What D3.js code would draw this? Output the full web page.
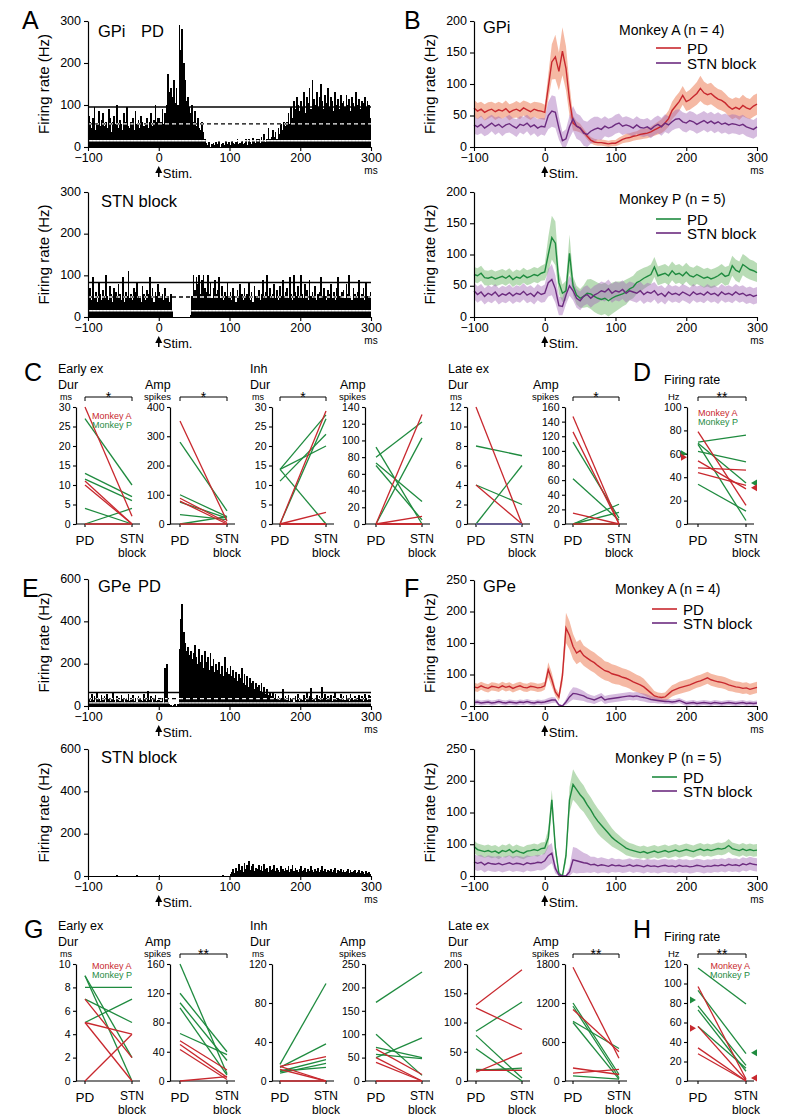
<!DOCTYPE html>
<html><head><meta charset="utf-8">
<script src="https://cdn.jsdelivr.net/npm/d3@7"></script>
<style>body{margin:0;background:#fff}svg{font-family:"Liberation Sans",Arial,sans-serif}</style>
</head><body><svg id="c" width="787" height="1118"></svg>
<script>
// ---------------- DATA ----------------
const T = d3.range(-100, 301, 5);          // trace time points (ms)
const BIN_T = d3.range(-100, 300, 2);      // histogram bin starts (ms)

// Panel A histograms (Hz), 2-ms bins
const gpiPD_hist = [75,60,45,70,95,40,55,85,50,65, 80,50,60,45,90,70,35,60,75,55, 100,45,65,55,40,80,60,95,50,45, 60,70,40,85,55,65,45,75,60,50, 55,70,45,60,80,50,65,100,60,70,
 70,60,90,55,80,100,175,130,140,120, 160,105,140,100,290,230,280,200,160,110, 120,95,80,100,60,85,50,70,45,40, 60,35,20,10,5,12,0,8,10,5, 12,6,15,0,8,10,5,15,8,12,
 5,15,10,8,12,20,6,10,15,8, 10,18,5,20,12,8,22,15,10,18, 20,10,25,15,30,12,20,45,18,25, 40,25,35,20,45,30,55,40,60,50, 60,80,55,95,70,110,90,120,100,85,
 110,95,130,80,120,105,140,90,160,115, 100,130,95,120,150,110,90,125,105,140, 95,120,110,85,130,100,115,90,125,105, 110,95,125,100,115,85,120,105,95,130, 100,115,90,110,105,120,95,110,100,70];
const gpiPD_lines = [95, 55, 15];   // upper, mean (dashed), lower
const gpiSTN_hist = [50,70,40,95,45,60,35,85,55,40, 65,45,100,50,40,75,55,35,70,60, 45,80,55,40,95,35,60,50,110,45, 55,40,70,60,85,45,50,35,75,55, 40,65,55,95,45,70,35,60,50,80,
 60,45,55,40,70,50,45,35,55,15, 0,0,0,0,0,0,0,0,0,0, 0,0,5,50,100,65,95,80,100,55, 90,100,70,60,100,55,85,45,70,90, 55,65,95,45,75,40,60,50,85,45,
 60,40,70,50,35,65,45,80,55,40, 70,45,55,85,40,60,35,75,50,45, 65,40,55,90,45,60,100,50,70,45, 55,80,45,65,40,75,50,90,45,60, 70,45,95,55,40,100,60,50,75,45,
 100,55,45,80,65,40,90,50,60,45, 75,40,55,60,95,45,70,50,40,65, 55,80,45,60,40,70,95,50,45,60, 65,45,80,55,100,50,40,70,55,45, 60,90,45,55,70,40,85,50,45,60];
const gpiSTN_lines = [83, 48, 15];

// Panel E histograms (Hz)
const gpePD_hist = [40,25,55,30,45,20,60,35,25,50, 30,45,20,55,35,25,40,60,30,20, 45,30,25,50,35,20,40,30,55,25, 30,50,25,40,20,45,35,30,25,55, 35,25,70,30,45,20,35,50,25,30,
 30,25,40,15,180,200,20,10,5,0, 5,10,0,8,270,410,480,350,300,260, 280,240,260,220,250,290,230,200,270,210, 240,180,260,210,230,170,250,190,220,160, 200,170,210,150,190,140,230,160,180,150,
 190,140,170,130,160,120,150,130,180,110, 150,100,140,90,130,110,120,80,110,90, 100,70,110,60,90,55,80,50,60,45, 60,40,55,35,45,30,40,80,35,45, 30,50,25,40,35,20,45,30,55,25,
 40,30,50,25,60,35,45,85,30,40, 25,50,35,45,30,90,40,55,30,45, 35,50,25,45,60,30,40,35,55,30, 45,30,50,35,25,55,40,30,45,35, 30,50,35,45,25,55,40,30,50,45];
const gpePD_lines = [64, 35, 15];
const gpeSTN_hist = [0,0,0,0,0,0,0,0,0,0, 0,0,0,0,0,0,0,0,0,0, 6,0,0,0,0,0,0,0,0,0, 0,0,0,0,5,0,0,0,0,0, 0,0,0,0,0,0,0,0,0,0,
 6,0,0,0,0,0,0,0,0,0, 0,0,0,0,0,0,0,0,0,0, 0,0,0,0,0,0,0,0,0,0, 0,0,0,0,0,0,0,0,0,0, 0,0,0,0,0,5,0,0,0,0,
 10,20,35,15,40,25,55,30,45,20, 60,35,50,70,30,45,55,25,40,35, 50,30,45,25,55,35,40,20,45,30, 35,50,25,40,30,20,45,35,25,40, 30,45,20,35,50,25,40,30,20,35,
 45,25,30,40,20,35,25,45,30,20, 35,25,40,20,30,45,25,35,20,30, 25,35,20,30,40,15,30,25,35,20, 30,20,25,35,15,30,20,25,30,15, 20,30,15,25,20,10,25,15,20,10];

// Panel B traces (Hz), mean and SEM half-width
const bA_pd = [62,57,60,55,58,60,56,59,57,61,55,58,60,57,62,59,56,60,58,57, 55,95,135,143,120,152,125,75,38,33,30,24,17,11,8,7,7,6,5,6,6,9,12,14,15,17,18,20,21,22,24,27,30,33,38,45,58,65,72,82,72,75,80,85,93,86,83,85,80,76,74,70,64,60,63,60,66,62,60,65,68];
const bA_pd_sem = [13,13,12,13,13,12,13,13,12,13,13,12,13,13,12,13,13,12,13,13, 12,20,28,35,30,38,35,25,12,8,7,5,5,5,5,5,5,5,5,5,5,6,6,7,7,7,7,8,8,8,8,9,10,11,12,13,14,15,15,15,15,16,17,18,20,18,17,17,16,16,16,15,15,16,16,17,17,16,16,17,17];
const bA_stn = [35,32,36,30,34,38,33,36,31,35,37,33,30,36,34,38,32,35,30,33, 32,50,57,55,30,10,13,32,45,33,30,22,20,25,28,30,28,33,30,32,36,38,33,35,33,30,35,31,30,32,28,33,36,32,38,35,40,44,45,40,38,42,40,36,39,42,38,41,37,40,36,38,35,37,36,34,36,32,30,28,32];
const bA_stn_sem = [14,13,14,13,14,13,14,13,14,13,14,13,14,13,14,13,14,13,14,13, 14,22,25,25,18,14,15,18,20,20,20,20,20,20,20,18,17,16,15,15,15,15,14,14,14,14,14,14,14,14,14,14,14,14,14,14,14,15,15,15,15,15,15,15,15,15,15,15,15,15,15,15,15,15,15,15,15,15,15,15,15];
const bP_pd = [68,66,70,63,62,64,61,63,65,62,66,60,64,62,67,63,65,68,66,70, 72,100,127,118,55,38,42,102,50,35,30,33,38,37,33,30,28,30,26,30,33,35,37,40,45,48,55,58,62,65,68,80,66,68,70,66,74,68,70,66,72,66,64,68,65,62,64,61,63,66,70,65,67,82,75,72,84,80,76,74,71];
const bP_pd_sem = [12,12,12,12,12,12,12,12,12,12,12,12,12,12,12,12,12,12,12,12, 13,28,35,35,18,14,16,30,15,15,15,18,22,24,25,25,25,25,25,25,24,22,20,20,18,18,18,18,17,16,16,16,15,15,15,15,15,15,15,15,15,15,15,15,15,15,15,15,15,15,15,15,15,16,17,17,17,17,16,16,15];
const bP_stn = [42,36,40,33,38,35,40,33,37,35,39,34,38,36,41,35,38,33,40,36, 38,55,60,45,18,17,35,50,42,30,26,33,36,30,35,38,42,40,45,38,42,40,44,38,42,40,38,42,36,40,38,42,35,38,33,40,36,38,35,40,37,34,40,36,38,35,40,36,38,34,40,36,38,35,40,36,38,34,36,33,35];
const bP_stn_sem = [13,13,13,13,13,13,13,13,13,13,13,13,13,13,13,13,13,13,13,13, 14,22,25,22,15,14,15,16,15,15,15,15,15,15,15,15,15,15,15,15,15,15,15,15,15,15,15,15,15,15,15,14,14,13,13,13,13,13,13,13,13,13,13,13,13,13,13,13,13,13,13,13,13,13,13,13,13,13,13,13,13];

// Panel F traces (axis units, 0-250 scale as drawn)
const fA_pd = [38,36,40,37,35,39,38,36,40,37,39,35,38,40,37,36,39,38,36,37, 40,72,52,28,18,60,155,140,118,105,110,100,95,90,86,80,75,70,68,64,62,60,57,55,52,48,45,42,38,32,26,20,18,17,18,24,30,33,36,38,40,42,45,48,50,53,56,52,50,48,47,45,42,40,38,37,35,36,33,35,37];
const fA_pd_sem = [8,8,8,8,8,8,8,8,8,8,8,8,8,8,8,8,8,8,8,8, 8,15,14,8,8,16,30,28,25,22,22,20,20,20,20,20,20,19,19,19,19,18,18,18,18,18,17,17,16,14,12,10,9,9,9,10,11,11,12,12,12,12,12,12,12,12,12,12,12,12,12,12,12,11,11,11,11,11,11,11,11];
const fA_stn = [7,8,6,7,8,6,7,9,7,6,8,7,6,8,7,9,7,6,8,7, 8,10,12,12,2,0,8,18,25,24,22,20,16,14,12,15,18,12,14,15,16,17,18,19,20,19,20,18,17,15,13,12,11,10,9,9,8,9,11,8,5,6,7,5,6,7,6,5,7,6,5,6,7,6,5,6,7,5,6,5,6];
const fA_stn_sem = [5,5,5,5,5,5,5,5,5,5,5,5,5,5,5,5,5,5,5,5, 5,6,6,5,2,1,6,10,12,12,11,10,9,8,8,8,8,8,8,8,8,8,8,8,8,8,8,8,8,8,7,6,6,5,5,5,5,5,5,5,5,5,5,5,5,5,5,5,5,5,5,5,5,5,5,5,5,5,5,5,5];
const fP_pd = [58,52,50,48,50,47,49,45,50,48,52,46,50,47,45,49,50,52,50,54, 55,75,150,55,5,0,40,150,180,170,160,152,140,130,118,108,100,92,84,76,70,65,60,55,52,50,48,46,48,45,47,49,46,48,50,47,49,51,48,50,52,50,48,51,53,50,52,50,52,54,53,55,60,54,52,50,53,50,52,50,51];
const fP_pd_sem = [12,12,12,12,12,12,12,12,12,12,12,12,12,12,12,12,12,12,12,12, 12,18,20,14,4,2,14,25,30,28,27,26,25,25,25,25,24,22,20,18,16,15,14,14,13,13,12,12,12,12,12,12,12,12,12,12,12,12,12,12,12,12,12,12,12,12,12,12,12,12,12,12,13,12,12,12,12,12,12,12,12];
const fP_stn = [28,25,27,22,26,24,23,25,22,24,26,23,25,24,22,26,24,25,27,26, 30,40,45,15,2,0,0,8,32,30,28,26,25,22,23,20,22,21,19,22,20,21,19,20,22,19,21,20,18,21,19,20,18,20,21,19,20,18,21,19,20,18,19,21,20,18,20,19,21,20,22,20,23,21,22,20,24,22,25,23,22];
const fP_stn_sem = [15,15,15,15,15,15,15,15,15,15,15,15,15,15,15,15,15,15,15,15, 16,20,20,10,3,2,2,10,25,25,22,20,18,16,15,15,15,14,14,14,13,13,13,13,13,13,13,13,13,13,13,13,13,13,13,13,13,13,13,13,13,13,13,13,13,13,13,13,13,13,13,13,13,13,13,13,13,13,13,13,13];
const F_TICKS = [0, 62.5, 125, 187.5, 250];
const F_TICK_LABELS = ["0", "100", "100", "200", "250"];

// Panel C / D (PD -> STN block), [PD, STN]
const cEarlyDur_A = [[30,2],[11,0],[10,0],[0,0]];
const cEarlyDur_P = [[27,10],[13,7],[11.5,6],[4,0],[0,4]];
const cEarlyAmp_A = [[352,10],[88,5],[78,0],[0,0]];
const cEarlyAmp_P = [[280,45],[100,25],[75,20],[32,15],[0,25]];
const cInhDur_A = [[0,29],[0,3],[0,0],[0,0]];
const cInhDur_P = [[14,28],[11,23],[14,20],[0,27],[14,0]];
const cInhAmp_A = [[0,131],[0,9],[0,0],[0,0]];
const cInhAmp_P = [[80,122],[0,103],[92,0],[73,27],[70,5]];
const cLateDur_A = [[12,0],[4,0],[0,0],[0,0]];
const cLateDur_P = [[8,7],[0,6],[4,2],[0,0],[0,0]];
const cLateAmp_A = [[147,0],[126,0],[15,0],[0,0]];
const cLateAmp_P = [[112,8],[62,5],[0,27],[0,16],[0,0]];
const dRate_A = [[79,16],[54,30],[48,46],[44,33]];
const dRate_P = [[70,76],[69,35],[62,53],[68,3],[34,11]];
const dMean_A = [57, 31];
const dMean_P = [60, 35];
// Panel G / H
const gEarlyDur_A = [[7,2],[5,4],[5,0],[0,4]];
const gEarlyDur_P = [[9,0],[9,2],[8,8],[7,5],[5,7]];
const gEarlyAmp_A = [[55,15],[50,5],[43,2],[0,6]];
const gEarlyAmp_P = [[160,10],[120,40],[107,28],[100,8],[65,36]];
const gInhDur_A = [[15,25],[15,0],[12,0],[0,0]];
const gInhDur_P = [[17,100],[14,38],[10,22],[8,18],[10,14]];
const gInhAmp_A = [[68,14],[50,0],[40,0],[0,0]];
const gInhAmp_P = [[168,233],[100,12],[50,92],[72,50],[57,48]];
const gLateDur_A = [[130,190],[125,88],[15,48],[18,18]];
const gLateDur_P = [[85,135],[78,5],[55,0],[18,22],[20,18]];
const gLateAmp_A = [[1750,350],[1100,450],[200,100],[120,180]];
const gLateAmp_P = [[1200,100],[1150,50],[920,500],[900,30],[80,30]];
const hRate_A = [[97,2],[56,1],[34,0],[28,0]];
const hRate_P = [[116,79],[93,28],[77,16],[73,10],[56,13]];
const hMean_A = [54, 3];
const hMean_P = [83, 29];

// ---------------- DRAWING ----------------
const RED = "#c8282e", GREEN = "#1f8b3f", PURPLE = "#6c2b7f", BLUE = "#4a6fb5";
const svg = d3.select("#c");
const defs = svg.append("defs");
let clipN = 0;

function txt(x, y, s, size, opt) {
  opt = opt || {};
  return svg.append("text").attr("x", x).attr("y", y).attr("font-size", size)
    .attr("fill", opt.fill || "#000").attr("text-anchor", opt.anchor || "start")
    .attr("font-weight", opt.weight || "normal").text(s);
}
function styleAxis(g, fs) {
  g.select(".domain").attr("stroke", "#000").attr("stroke-width", 1.2);
  g.selectAll(".tick line").attr("stroke", "#000").attr("stroke-width", 1.1);
  g.selectAll(".tick text").attr("font-size", fs).attr("fill", "#000")
    .attr("font-family", "Liberation Sans, Arial, sans-serif");
}
function timeAxes(x, y, yBot, yTicks, yLabels) {
  const ga = svg.append("g").attr("transform", `translate(0,${yBot})`)
    .call(d3.axisBottom(x).tickValues([-100, 0, 100, 200, 300]).tickSize(4).tickSizeOuter(0).tickPadding(2));
  styleAxis(ga, 12.5);
  const gy = svg.append("g").attr("transform", `translate(${x.range()[0]},0)`)
    .call(d3.axisLeft(y).tickValues(yTicks).tickSize(4).tickSizeOuter(0).tickPadding(3)
      .tickFormat((d, i) => yLabels ? yLabels[i] : d));
  styleAxis(gy, 12.5);
  gy.selectAll(".tick text").attr("dy", "0.25em");
  const x0 = x(0);
  svg.append("path").attr("d", `M${x0},${yBot + 30}V${yBot + 23}`).attr("stroke", "#000").attr("stroke-width", 1.5);
  svg.append("path").attr("d", `M${x0 - 3.5},${yBot + 26}L${x0},${yBot + 19}L${x0 + 3.5},${yBot + 26}Z`).attr("fill", "#000");
  txt(x0 + 4, yBot + 31, "Stim.", 13);
  txt(x(300), yBot + 27, "ms", 10, { anchor: "middle" });
  txt(0, 0, "Firing rate (Hz)", 15, { anchor: "middle" })
    .attr("transform", `translate(${x.range()[0] - 39},${(y.range()[0] + y.range()[1]) / 2}) rotate(-90)`);
}

function histPanel(vals, lines, yMax, yTop, yBot, yTicks) {
  const x = d3.scaleLinear().domain([-100, 300]).range([88, 371]);
  const y = d3.scaleLinear().domain([0, yMax]).range([yBot, yTop]);
  const w = x(2) - x(0);
  if (lines) {
    svg.append("line").attr("x1", x(-100)).attr("x2", x(300)).attr("y1", y(lines[1])).attr("y2", y(lines[1]))
      .attr("stroke", "#000").attr("stroke-width", 1.4).attr("stroke-dasharray", "4,3");
  }
  const g = svg.append("g").attr("shape-rendering", "crispEdges");
  g.selectAll("rect").data(vals).join("rect")
    .attr("x", (d, i) => x(BIN_T[i])).attr("width", w + 0.3)
    .attr("y", d => y(d)).attr("height", d => yBot - y(d)).attr("fill", "#000");
  if (lines) {
    const id = "clip" + (clipN++);
    defs.append("clipPath").attr("id", id).selectAll("rect").data(vals).join("rect")
      .attr("x", (d, i) => x(BIN_T[i])).attr("width", w + 0.3)
      .attr("y", d => y(d)).attr("height", d => yBot - y(d));
    svg.append("line").attr("clip-path", `url(#${id})`).attr("x1", x(-100)).attr("x2", x(300))
      .attr("y1", y(lines[1])).attr("y2", y(lines[1])).attr("stroke", "#fff").attr("stroke-width", 1.4).attr("stroke-dasharray", "4,3");
    svg.append("line").attr("clip-path", `url(#${id})`).attr("x1", x(-100)).attr("x2", x(300))
      .attr("y1", y(lines[2])).attr("y2", y(lines[2])).attr("stroke", "#fff").attr("stroke-width", 1.4);
    svg.append("line").attr("x1", x(-100)).attr("x2", x(300)).attr("y1", y(lines[0])).attr("y2", y(lines[0]))
      .attr("stroke", "#000").attr("stroke-width", 1.5);
  }
  timeAxes(x, y, yBot, yTicks);
}

function tracePanel(series, yMax, yTop, yBot, yTicks, yLabels) {
  const x = d3.scaleLinear().domain([-100, 300]).range([474, 757]);
  const y = d3.scaleLinear().domain([0, yMax]).range([yBot, yTop]);
  series.forEach(s => {
    const area = d3.area().x((d, i) => x(T[i]))
      .y0((d, i) => y(Math.max(0, d - s.sem[i]))).y1((d, i) => y(d + s.sem[i]));
    svg.append("path").attr("d", area(s.mean)).attr("fill", s.fill).attr("fill-opacity", s.op);
  });
  series.forEach(s => {
    const line = d3.line().x((d, i) => x(T[i])).y(d => y(d));
    svg.append("path").attr("d", line(s.mean)).attr("fill", "none").attr("stroke", s.color).attr("stroke-width", 1.4);
  });
  timeAxes(x, y, yBot, yTicks, yLabels);
}

function legend(title, yTitle, lineX, yPD, ySTN, pdColor) {
  txt(lineX - 37, yTitle, title, 14);
  [[yPD, pdColor, "PD"], [ySTN, PURPLE, "STN block"]].forEach(([yy, c, s]) => {
    svg.append("line").attr("x1", lineX).attr("x2", lineX + 25).attr("y1", yy).attr("y2", yy)
      .attr("stroke", c).attr("stroke-width", 1.6);
    txt(lineX + 31, yy + 5.5, s, 15);
  });
}

function slopePanel(p) {
  const x = d3.scaleLinear().domain([0, 1]).range([p.pdX, p.stnX]);
  const y = d3.scaleLinear().domain([0, p.max]).range([p.yBot, p.yTop]);
  const gy = svg.append("g").attr("transform", `translate(${p.axisX},0)`)
    .call(d3.axisLeft(y).tickValues(p.ticks).tickSize(3).tickSizeOuter(0).tickPadding(2.5).tickFormat(d3.format("d")));
  styleAxis(gy, 10.5);
  svg.append("line").attr("x1", p.axisX).attr("x2", p.endX).attr("y1", p.yBot).attr("y2", p.yBot)
    .attr("stroke", "#000").attr("stroke-width", 1.2);
  [0, 1].forEach(k => svg.append("line").attr("x1", x(k)).attr("x2", x(k)).attr("y1", p.yBot).attr("y2", p.yBot + 3)
    .attr("stroke", "#000").attr("stroke-width", 1.1));
  const draw = (arr, c) => svg.append("g").selectAll("line").data(arr).join("line")
    .attr("x1", x(0)).attr("x2", x(1)).attr("y1", d => y(d[0])).attr("y2", d => y(d[1]))
    .attr("stroke", c).attr("stroke-width", 1.3);
  draw(p.P, GREEN);
  draw(p.A, RED);
  if (p.extra) draw(p.extra, BLUE);
  if (p.tris) {
    p.tris.forEach(t => {
      const ty = y(t.v), dir = t.dir, tx = t.x;
      svg.append("path").attr("d", `M${tx},${ty - 3.5}L${tx + 6 * dir},${ty}L${tx},${ty + 3.5}Z`).attr("fill", t.c);
    });
  }
  if (p.sig) {
    const by = p.yTop - 10;
    svg.append("path").attr("d", `M${x(0)},${by + 4}V${by}H${x(1)}V${by + 4}`).attr("fill", "none")
      .attr("stroke", "#000").attr("stroke-width", 1);
    txt((x(0) + x(1)) / 2, by + 5, p.sig, 14, { anchor: "middle" });
  }
  txt(x(0), p.yBot + 21, "PD", 13.5, { anchor: "middle" });
  txt(x(1), p.yBot + 19, "STN", 12, { anchor: "middle" });
  txt(x(1), p.yBot + 32.5, "block", 12, { anchor: "middle" });
}

// Panel letters
[["A", 22, 29], ["B", 404, 29], ["C", 24, 381], ["D", 633, 381], ["E", 22, 597], ["F", 404, 597], ["G", 24, 938], ["H", 633, 938]]
  .forEach(([s, x, y]) => txt(x, y, s, 25));

// A
histPanel(gpiPD_hist, gpiPD_lines, 300, 21, 147, [0, 100, 200, 300]);
txt(98, 36.5, "GPi", 16.5); txt(141, 36.5, "PD", 16.5);
histPanel(gpiSTN_hist, gpiSTN_lines, 300, 192, 317, [0, 100, 200, 300]);
txt(101, 207, "STN block", 16.5);

// B
tracePanel([
  { mean: bA_pd, sem: bA_pd_sem, color: RED, fill: "#ee8a68", op: 0.6 },
  { mean: bA_stn, sem: bA_stn_sem, color: PURPLE, fill: "#a56bb8", op: 0.45 }
], 200, 21, 147, [0, 50, 100, 150, 200]);
txt(483, 33, "GPi", 16.5);
legend("Monkey A (n = 4)", 35, 656, 48, 63, RED);
tracePanel([
  { mean: bP_pd, sem: bP_pd_sem, color: GREEN, fill: "#7fbf7a", op: 0.55 },
  { mean: bP_stn, sem: bP_stn_sem, color: PURPLE, fill: "#a56bb8", op: 0.45 }
], 200, 192, 317, [0, 50, 100, 150, 200]);
legend("Monkey P (n = 5)", 204, 656, 219, 233, GREEN);

// E
histPanel(gpePD_hist, gpePD_lines, 600, 579, 706, [0, 200, 400, 600]);
txt(98, 592, "GPe", 16.5); txt(138, 592, "PD", 16.5);
histPanel(gpeSTN_hist, null, 600, 749, 876, [0, 200, 400, 600]);
txt(101, 763, "STN block", 16.5);

// F
tracePanel([
  { mean: fA_pd, sem: fA_pd_sem, color: RED, fill: "#ee8a68", op: 0.6 },
  { mean: fA_stn, sem: fA_stn_sem, color: PURPLE, fill: "#a56bb8", op: 0.45 }
], 250, 580, 706, F_TICKS, F_TICK_LABELS);
txt(483, 592, "GPe", 16.5);
legend("Monkey A (n = 4)", 594, 652, 609, 623, RED);
tracePanel([
  { mean: fP_pd, sem: fP_pd_sem, color: GREEN, fill: "#7fbf7a", op: 0.55 },
  { mean: fP_stn, sem: fP_stn_sem, color: PURPLE, fill: "#a56bb8", op: 0.45 }
], 250, 749, 876, F_TICKS, F_TICK_LABELS);
legend("Monkey P (n = 5)", 763, 652, 777, 791, GREEN);

// C & G headers and panels
const cols = [
  { axisX: 76, pdX: 85, stnX: 132, endX: 140 },
  { axisX: 170, pdX: 180, stnX: 227, endX: 235 },
  { axisX: 272, pdX: 280, stnX: 326, endX: 334 },
  { axisX: 365, pdX: 376, stnX: 422, endX: 430 },
  { axisX: 467, pdX: 476, stnX: 522, endX: 530 },
  { axisX: 565, pdX: 573, stnX: 619, endX: 627 },
  { axisX: 687, pdX: 698, stnX: 746, endX: 754 }
];
function headers(off) {
  [[58, "Early ex"], [250, "Inh"], [448, "Late ex"]].forEach(([x, s]) => {
    txt(x, 373 + off, s, 12.5); txt(x, 389 + off, "Dur", 12.5); txt(x + 2, 400 + off, "ms", 9);
  });
  [145, 340, 533].forEach(x => { txt(x, 389 + off, "Amp", 12.5); txt(x - 1, 400 + off, "spikes", 9.5); });
  txt(664, 384 + off, "Firing rate", 12.5); txt(668, 400 + off, "Hz", 9.5);
}
headers(0); headers(557);

function row(off, specs) {
  specs.forEach((s, i) => slopePanel(Object.assign({}, cols[i], { yTop: 407 + off, yBot: 524 + off }, s)));
}
row(0, [
  { max: 30, ticks: d3.range(0, 31, 5), A: cEarlyDur_A, P: cEarlyDur_P, sig: "*" },
  { max: 400, ticks: [0, 100, 200, 300, 400], A: cEarlyAmp_A, P: cEarlyAmp_P, sig: "*" },
  { max: 30, ticks: d3.range(0, 31, 5), A: cInhDur_A, P: cInhDur_P, sig: "*" },
  { max: 140, ticks: d3.range(0, 141, 20), A: cInhAmp_A, P: cInhAmp_P },
  { max: 12, ticks: d3.range(0, 13, 2), A: cLateDur_A, P: cLateDur_P, extra: [[0, 0]] },
  { max: 160, ticks: d3.range(0, 161, 20), A: cLateAmp_A, P: cLateAmp_P, sig: "*" },
  { max: 100, ticks: d3.range(0, 101, 20), A: dRate_A, P: dRate_P, sig: "**",
    tris: [{ x: 681, v: dMean_P[0], c: GREEN, dir: 1 }, { x: 681, v: dMean_A[0], c: RED, dir: 1 },
           { x: 757, v: dMean_P[1], c: GREEN, dir: -1 }, { x: 757, v: dMean_A[1], c: RED, dir: -1 }] }
]);
row(557, [
  { max: 10, ticks: d3.range(0, 11, 2), A: gEarlyDur_A, P: gEarlyDur_P },
  { max: 160, ticks: [0, 40, 80, 120, 160], A: gEarlyAmp_A, P: gEarlyAmp_P, sig: "**" },
  { max: 120, ticks: [0, 40, 80, 120], A: gInhDur_A, P: gInhDur_P },
  { max: 250, ticks: d3.range(0, 251, 50), A: gInhAmp_A, P: gInhAmp_P },
  { max: 200, ticks: d3.range(0, 201, 50), A: gLateDur_A, P: gLateDur_P },
  { max: 1800, ticks: [0, 600, 1200, 1800], A: gLateAmp_A, P: gLateAmp_P, sig: "**" },
  { max: 120, ticks: d3.range(0, 121, 20), A: hRate_A, P: hRate_P, sig: "**",
    tris: [{ x: 690, v: hMean_P[0], c: GREEN, dir: 1 }, { x: 690, v: hMean_A[0], c: RED, dir: 1 },
           { x: 757, v: hMean_P[1], c: GREEN, dir: -1 }, { x: 757, v: hMean_A[1], c: RED, dir: -1 }] }
]);
// Monkey legends
txt(92, 419, "Monkey A", 9, { fill: RED }); txt(92, 428, "Monkey P", 9, { fill: GREEN });
txt(698, 416, "Monkey A", 9, { fill: RED }); txt(698, 425, "Monkey P", 9, { fill: GREEN });
txt(92, 969, "Monkey A", 9, { fill: RED }); txt(92, 978, "Monkey P", 9, { fill: GREEN });
txt(750, 969, "Monkey A", 9, { fill: RED, anchor: "end" }); txt(750, 978, "Monkey P", 9, { fill: GREEN, anchor: "end" });
</script></body></html>
